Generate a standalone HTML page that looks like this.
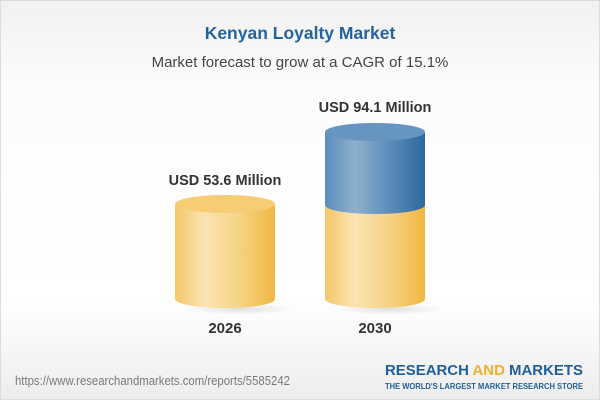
<!DOCTYPE html>
<html>
<head>
<meta charset="utf-8">
<style>
  html,body{margin:0;padding:0;width:600px;height:400px;overflow:hidden;background:#fff;}
  svg{display:block;}
  text{font-family:"Liberation Sans",Arial,sans-serif;}
</style>
</head>
<body>
<svg width="600" height="400" viewBox="0 0 600 400" xmlns="http://www.w3.org/2000/svg">
  <defs>
    <linearGradient id="bg" x1="0" y1="0" x2="0" y2="1">
      <stop offset="0" stop-color="#f1f1f1"/>
      <stop offset="0.22" stop-color="#fcfcfc"/>
      <stop offset="0.75" stop-color="#ffffff"/>
      <stop offset="1" stop-color="#ededed"/>
    </linearGradient>
    <linearGradient id="ySide" x1="0" y1="0" x2="1" y2="0">
      <stop offset="0" stop-color="#f3c76a"/>
      <stop offset="0.3" stop-color="#fbe4b4"/>
      <stop offset="0.65" stop-color="#f6d282"/>
      <stop offset="1" stop-color="#f0b840"/>
    </linearGradient>
    <linearGradient id="bSide" x1="0" y1="0" x2="1" y2="0">
      <stop offset="0" stop-color="#5a8cba"/>
      <stop offset="0.3" stop-color="#8fb0cd"/>
      <stop offset="0.65" stop-color="#5b8cba"/>
      <stop offset="1" stop-color="#2a699e"/>
    </linearGradient>
    <radialGradient id="shadow" cx="0.5" cy="0.5" r="0.5">
      <stop offset="0" stop-color="#000" stop-opacity="0.12"/>
      <stop offset="1" stop-color="#000" stop-opacity="0"/>
    </radialGradient>
  </defs>

  <rect x="0" y="0" width="600" height="400" fill="url(#bg)"/>
  <rect x="0.5" y="0.5" width="599" height="399" fill="none" stroke="#dcdcdc"/>

  <text x="300" y="39" text-anchor="middle" font-size="17.5" font-weight="bold" fill="#24649e">Kenyan Loyalty Market</text>
  <text x="300" y="67" text-anchor="middle" font-size="15" fill="#444">Market forecast to grow at a CAGR of 15.1%</text>

  <!-- shadows -->
  <ellipse cx="240" cy="309" rx="55" ry="6" fill="url(#shadow)"/>
  <ellipse cx="390" cy="309" rx="55" ry="6" fill="url(#shadow)"/>

  <!-- left cylinder -->
  <path d="M175 204 L175 299 A50 9 0 0 0 275 299 L275 204 Z" fill="url(#ySide)"/>
  <ellipse cx="225" cy="204" rx="50" ry="9" fill="#f6cd74"/>

  <!-- right cylinder yellow part -->
  <path d="M325 205 L325 299 A50 9 0 0 0 425 299 L425 205 Z" fill="url(#ySide)"/>
  <!-- blue part -->
  <path d="M325 132 L325 205 A50 9 0 0 0 425 205 L425 132 Z" fill="url(#bSide)"/>
  <ellipse cx="375" cy="132" rx="50" ry="9" fill="#6695c0"/>

  <text x="225" y="185" text-anchor="middle" font-size="14.5" font-weight="bold" fill="#333">USD 53.6 Million</text>
  <text x="375" y="112" text-anchor="middle" font-size="14.5" font-weight="bold" fill="#333">USD 94.1 Million</text>

  <text x="225" y="333" text-anchor="middle" font-size="15" font-weight="bold" fill="#333">2026</text>
  <text x="375" y="333" text-anchor="middle" font-size="15" font-weight="bold" fill="#333">2030</text>

  <text x="15" y="385" font-size="12.5" fill="#7a7a7a" textLength="275" lengthAdjust="spacingAndGlyphs">https://www.researchandmarkets.com/reports/5585242</text>

  <text x="385" y="375" font-size="14.5" font-weight="bold" fill="#1f5f99" textLength="198" lengthAdjust="spacingAndGlyphs">RESEARCH <tspan fill="#f0b030">AND</tspan> MARKETS</text>
  <text x="385" y="389" font-size="8" font-weight="bold" fill="#1f5f99" textLength="198" lengthAdjust="spacingAndGlyphs">THE WORLD'S LARGEST MARKET RESEARCH STORE</text>
</svg>
</body>
</html>
